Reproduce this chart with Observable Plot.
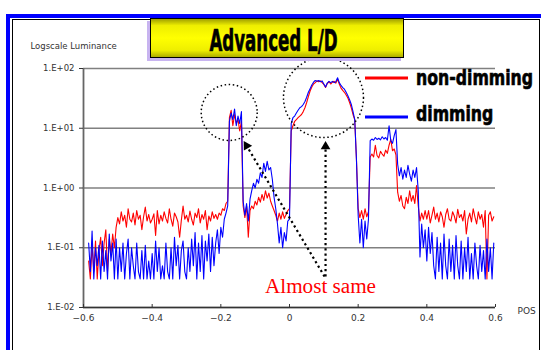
<!DOCTYPE html>
<html><head><meta charset="utf-8">
<script src="https://cdn.jsdelivr.net/npm/d3@7"></script>
<script src="https://cdn.jsdelivr.net/npm/@observablehq/plot@0.6"></script>
<style>
body{margin:0;background:#fff}
#wrap{position:relative;width:541px;height:350px;overflow:hidden;background:#fff}
.abs{position:absolute}
</style></head><body>
<div id="wrap">
 <div class="abs" style="left:6px;top:14px;width:620px;height:420px;border:4px solid #0000ff;box-sizing:border-box"></div>
 <div class="abs" style="left:12px;top:19px;width:528px;height:420px;border:1.5px solid #000;box-sizing:border-box"></div>
 <div id="chart" class="abs" style="left:0;top:0"></div>
 <svg id="deco" class="abs" width="541" height="350" style="left:0;top:0">
   <defs><linearGradient id="yg" x1="0" y1="0" x2="0" y2="1">
     <stop offset="0" stop-color="#9a9a00"/><stop offset="0.18" stop-color="#eeee00"/><stop offset="0.5" stop-color="#ffff00"/><stop offset="0.82" stop-color="#eeee00"/><stop offset="1" stop-color="#a8a800"/>
   </linearGradient></defs>
   <rect x="147" y="21" width="254" height="40" fill="#c8b4f0"/>
   <rect x="150.5" y="18.5" width="253" height="39" fill="url(#yg)" stroke="#000" stroke-width="1"/>
   <text transform="translate(273.5,51) scale(1,1.6)" text-anchor="middle" font-family="DejaVu Sans Condensed, DejaVu Sans" font-weight="bold" font-size="18.5" stroke="#000" stroke-width="0.4">Advanced L/D</text>
   <line x1="365" x2="408" y1="78" y2="78" stroke="#ff0000" stroke-width="3"/>
   <line x1="365" x2="408" y1="117" y2="117" stroke="#0000ff" stroke-width="3"/>
   <text transform="translate(416,85) scale(1,1.25)" font-family="DejaVu Sans Condensed, DejaVu Sans" font-weight="bold" font-size="17.5" stroke="#000" stroke-width="0.5">non-dimming</text>
   <text transform="translate(416,121) scale(1,1.25)" font-family="DejaVu Sans Condensed, DejaVu Sans" font-weight="bold" font-size="17.5" stroke="#000" stroke-width="0.5">dimming</text>
   <text x="265" y="293" font-family="Liberation Serif" font-size="20" fill="#ff0000" textLength="111" lengthAdjust="spacingAndGlyphs">Almost same</text>
 </svg>
</div>
<script>
// sampling positions (POS)
const pos = [
 -0.585,-0.58,-0.575,-0.57,-0.565,-0.56,-0.555,-0.55,-0.545,-0.54,-0.535,-0.53,-0.525,-0.52,-0.515,-0.51,-0.505,
 -0.5,-0.495,-0.49,-0.485,-0.48,-0.475,-0.47,-0.465,-0.46,-0.455,-0.45,-0.445,-0.44,-0.435,-0.43,-0.425,-0.42,-0.415,-0.41,-0.405,
 -0.4,-0.395,-0.39,-0.385,-0.38,-0.375,-0.37,-0.365,-0.36,-0.355,-0.35,-0.345,-0.34,-0.335,-0.33,-0.325,-0.32,-0.315,-0.31,-0.305,
 -0.3,-0.295,-0.29,-0.285,-0.28,-0.275,-0.27,-0.265,-0.26,-0.255,-0.25,-0.245,-0.24,-0.235,-0.23,-0.225,-0.22,-0.215,-0.21,-0.205,
 -0.2,-0.195,-0.19,-0.185,-0.18,-0.175,-0.17,-0.165,-0.16,-0.155,-0.15,-0.145,-0.14,-0.135,-0.13,-0.125,-0.12,-0.115,-0.11,-0.105,
 -0.1,-0.095,-0.09,-0.085,-0.08,-0.075,-0.07,-0.065,-0.06,-0.055,-0.05,-0.045,-0.04,-0.035,-0.03,-0.025,-0.02,-0.015,-0.01,-0.005,
 0,0.005,0.01,0.015,0.02,0.025,0.03,0.035,0.04,0.045,0.05,0.055,0.06,0.065,0.07,0.075,0.08,0.085,0.09,0.095,
 0.1,0.105,0.11,0.115,0.12,0.125,0.13,0.135,0.14,0.145,0.15,0.155,0.16,0.165,0.17,0.175,0.18,0.185,0.19,0.195,
 0.2,0.205,0.21,0.215,0.22,0.225,0.23,0.235,0.24,0.245,0.25,0.255,0.26,0.265,0.27,0.275,0.28,0.285,0.29,0.295,
 0.3,0.305,0.31,0.315,0.32,0.325,0.33,0.335,0.34,0.345,0.35,0.355,0.36,0.365,0.37,0.375,0.38,0.385,0.39,0.395,
 0.4,0.405,0.41,0.415,0.42,0.425,0.43,0.435,0.44,0.445,0.45,0.455,0.46,0.465,0.47,0.475,0.48,0.485,0.49,0.495,
 0.5,0.505,0.51,0.515,0.52,0.525,0.53,0.535,0.54,0.545,0.55,0.555,0.56,0.565,0.57,0.575,0.58,0.585,0.59,0.595
];
// non-dimming luminance (red)
const nonDimming = [
 0.06,0.03,0.11,0.04,0.13,0.03,0.09,0.15,0.05,0.12,0.2,0.04,0.14,0.08,0.17,0.1,0.22,
 0.32,0.25,0.4,0.28,0.35,0.22,0.45,0.3,0.27,0.38,0.24,0.42,0.3,0.35,0.2,0.33,0.48,0.28,0.36,0.26,
 0.3,0.37,0.16,0.42,0.25,0.35,0.28,0.4,0.31,0.26,0.45,0.3,0.23,0.38,0.33,0.27,0.15,0.29,0.5,0.3,
 0.35,0.27,0.41,0.3,0.24,0.38,0.32,0.45,0.26,0.36,0.3,0.42,0.2,0.34,0.28,0.4,0.31,0.36,0.3,0.38,
 0.35,0.45,0.42,0.55,0.6,15,20,11,17,12,14,9,13,0.5,0.32,0.5,0.15,0.42,0.5,0.45,
 0.6,0.52,0.7,0.58,0.78,0.62,0.9,0.68,0.82,0.6,0.5,0.42,0.35,0.28,0.38,0.3,0.4,0.31,0.36,0.42,
 0.45,9,11,13,14,15,16,17,19,22,27,34,42,49,55,58,62,60,62,58,
 54,48,56,60,55,59,61,57,66,55,47,43,40,36,32,27,22,17,14,3,
 0.45,0.32,0.42,0.3,0.45,0.33,0.4,3.3,3.7,3.3,5.2,3.5,3.2,4.1,3.7,3.4,4.3,3.8,5.2,6.5,
 4.2,4.5,3.6,0.85,0.6,0.75,0.5,0.45,0.7,0.55,0.9,0.6,0.75,0.55,1.1,0.5,0.28,0.38,0.3,0.42,
 0.3,0.42,0.26,0.35,0.48,0.3,0.38,0.27,0.4,0.33,0.22,0.36,0.45,0.3,0.28,0.4,0.34,0.26,0.44,0.32,
 0.36,0.28,0.42,0.17,0.3,0.38,0.27,0.45,0.33,0.25,0.4,0.3,0.36,0.22,0.42,0.03,0.35,0.4,0.28,0.33
];
// dimming luminance (blue)
const dimming = [
 0.12,0.04,0.19,0.03,0.1,0.05,0.11,0.03,0.13,0.04,0.09,0.03,0.17,0.06,0.12,0.03,0.14,
 0.03,0.1,0.04,0.12,0.03,0.08,0.14,0.03,0.1,0.05,0.03,0.12,0.04,0.03,0.09,0.03,0.11,0.03,0.06,0.03,
 0.08,0.03,0.13,0.04,0.1,0.03,0.05,0.03,0.12,0.04,0.03,0.1,0.03,0.15,0.05,0.11,0.03,0.09,0.13,0.04,
 0.03,0.1,0.04,0.14,0.05,0.18,0.03,0.12,0.04,0.16,0.03,0.13,0.06,0.17,0.04,0.15,0.05,0.12,0.2,0.08,
 0.22,0.15,0.3,0.38,0.5,13,18,14,21,11,16,12,19,0.6,0.35,0.55,0.28,0.65,0.9,1.2,
 1.0,1.4,1.2,1.8,1.5,2.6,1.9,2.8,2.0,2.2,1.4,0.7,0.45,0.25,0.12,0.22,0.1,0.18,0.13,0.28,
 0.3,12,15,16,18,20,22,23,25,28,33,40,46,53,59,63,61,63,60,62,
 55,49,57,61,58,61,58,60,70,58,52,48,45,40,35,30,25,19,14,3,
 0.35,0.12,0.3,0.1,0.28,0.14,0.3,6.2,6.6,6.3,7.0,6.5,6.8,6.4,7.2,6.6,7.0,6.3,11,6.2,
 5.6,7.5,9.5,2.5,1.6,2.2,1.4,2.0,1.5,2.4,1.7,1.3,2.0,1.5,2.2,0.9,0.07,0.25,0.1,0.2,
 0.06,0.22,0.08,0.18,0.05,0.03,0.15,0.04,0.12,0.03,0.17,0.05,0.03,0.14,0.04,0.11,0.03,0.16,0.05,0.03,
 0.13,0.03,0.1,0.04,0.15,0.03,0.08,0.03,0.12,0.05,0.03,0.11,0.04,0.09,0.03,0.14,0.04,0.1,0.03,0.12
];
const yTicks = [0.01, 0.1, 1, 10, 100];
const yTickLabels = ["1.E-02", "1.E-01", "1.E+00", "1.E+01", "1.E+02"];
const xTicks = [-0.6, -0.4, -0.2, 0, 0.2, 0.4, 0.6];
const xTickLabels = ["\u22120.6", "\u22120.4", "\u22120.2", "0", "0.2", "0.4", "0.6"];
// annotation anchors (data coordinates)
const circleSmall = [{x: -0.1756, y: 18.35}];
const circleBig = [{x: 0.099, y: 32.7}];
const arrowLinks = [
  {x1: 0.102, y1: 0.033, x2: -0.125, y2: 5.1},
  {x1: 0.105, y1: 0.033, x2: 0.105, y2: 4.95}
];
const arrowHeads = [
  {x: -0.125, y: 5.1, angle: -31},
  {x: 0.105, y: 4.95, angle: 0}
];

const data = pos.map((p, i) => ({pos: p, red: nonDimming[i], blue: dimming[i]}));

const chart = Plot.plot({
  width: 541, height: 350,
  marginLeft: 83, marginRight: 46, marginTop: 68, marginBottom: 43,
  style: {background: "transparent", fontFamily: "DejaVu Sans", fontSize: "9px", color: "#333", overflow: "visible"},
  x: {domain: [-0.6, 0.6]},
  y: {type: "log", domain: [0.01, 100]},
  marks: [
    Plot.gridY(yTicks, {stroke: "#808080", strokeOpacity: 1, strokeWidth: 1.6}),
    Plot.ruleX([-0.6], {stroke: "#666", strokeWidth: 1.8}),
    Plot.ruleY([0.01], {stroke: "#333", strokeWidth: 1.6}),
    Plot.axisY(yTicks, {tickSize: 4, tickPadding: 5, tickFormat: d => yTickLabels[yTicks.indexOf(d)], fontSize: 8.5, label: null}),
    Plot.axisX(xTicks, {tickSize: -3, tickPadding: 10.5, tickFormat: d => xTickLabels[xTicks.indexOf(d)], fontSize: 9, label: null}),
    Plot.line(data, {x: "pos", y: "red", stroke: "#ff0000", strokeWidth: 1.1}),
    Plot.line(data, {x: "pos", y: "blue", stroke: "#0000ff", strokeWidth: 1.1}),
    Plot.dot(circleSmall, {x: "x", y: "y", r: 28, fill: "none", stroke: "#000", strokeWidth: 1.5, strokeDasharray: "1.5,2.6"}),
    Plot.dot(circleBig, {x: "x", y: "y", r: 40, fill: "none", stroke: "#000", strokeWidth: 1.5, strokeDasharray: "1.5,2.6"}),
    Plot.link(arrowLinks, {x1: "x1", y1: "y1", x2: "x2", y2: "y2", stroke: "#000", strokeWidth: 2.2, strokeDasharray: "2.2,3"}),
    Plot.dot(arrowHeads, {x: "x", y: "y", symbol: "triangle", r: 3.6, fill: "#000", stroke: "none", rotate: "angle"}),
    Plot.text(["Logscale Luminance"], {frameAnchor: "top-left", dx: -53, dy: -22, textAnchor: "start", lineAnchor: "middle", fontSize: 8.5, fill: "#333"}),
    Plot.text(["POS"], {frameAnchor: "bottom-right", dx: 22, dy: 4, textAnchor: "start", lineAnchor: "middle", fontSize: 9, fill: "#333"})
  ]
});
document.getElementById("chart").appendChild(chart);
</script>
</body></html>
